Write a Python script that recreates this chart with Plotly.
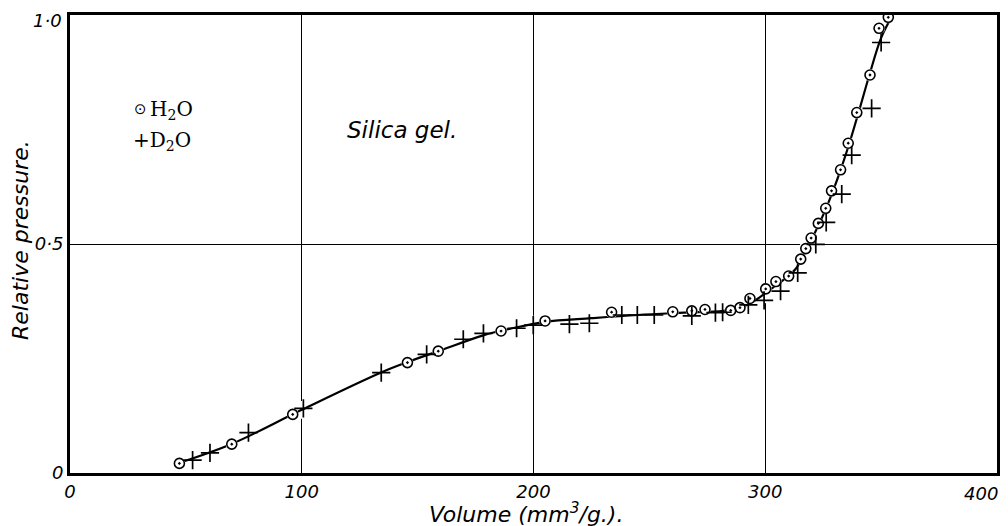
import plotly.graph_objects as go

# H2O adsorption points (circles)
h2o_volume = [47.2, 69.8, 96.1, 145.6, 158.9, 186.0, 205.0, 233.7, 260.1, 268.3, 274.0,
              285.1, 289.1, 293.4, 300.2, 304.6, 310.1, 315.3, 317.5, 319.8, 322.9,
              326.1, 328.6, 332.5, 335.8, 339.5, 345.2, 349.1, 353.1]
h2o_pressure = [0.021, 0.063, 0.128, 0.241, 0.266, 0.310, 0.332, 0.351, 0.352, 0.354, 0.357,
                0.355, 0.361, 0.381, 0.402, 0.418, 0.430, 0.467, 0.490, 0.513, 0.545,
                0.578, 0.616, 0.662, 0.720, 0.787, 0.869, 0.971, 0.995]

# D2O adsorption points (crosses)
d2o_volume = [52.9, 60.4, 77.0, 100.7, 134.3, 153.9, 169.7, 178.4, 192.7, 199.9, 215.5,
              224.1, 238.1, 244.8, 252.1, 268.3, 278.5, 281.6, 292.7, 299.5, 306.6,
              314.0, 321.8, 326.3, 333.0, 337.3, 345.9, 350.0]
d2o_pressure = [0.028, 0.044, 0.088, 0.141, 0.219, 0.259, 0.292, 0.305, 0.316, 0.323, 0.325,
                0.327, 0.345, 0.345, 0.345, 0.343, 0.350, 0.351, 0.367, 0.377, 0.397,
                0.437, 0.499, 0.547, 0.609, 0.694, 0.796, 0.940]

# drawn isotherm curve
curve_volume = [47, 70, 100, 134, 146, 160, 178, 190, 205, 225, 245, 265, 282, 290, 296,
                302, 308, 313, 317, 321, 326, 331, 336, 341, 345, 350, 355]
curve_pressure = [0.022, 0.064, 0.138, 0.219, 0.243, 0.268, 0.300, 0.315, 0.330, 0.338,
                  0.345, 0.350, 0.354, 0.362, 0.378, 0.400, 0.422, 0.445, 0.480, 0.520,
                  0.575, 0.640, 0.715, 0.800, 0.870, 0.950, 1.0]

x_ticks = [0, 100, 200, 300, 400]
x_ticklabels = ["0", "100", "200", "300", "400"]
y_ticks = [0, 0.5, 1.0]
y_ticklabels = ["0", "0·5", "1·0"]

fig = go.Figure()

# white halo under the curve (breaks the grid lines like the original)
fig.add_trace(go.Scatter(x=curve_volume, y=curve_pressure, mode="lines",
                         line=dict(color="white", width=16, shape="spline"),
                         hoverinfo="skip", showlegend=False))
fig.add_trace(go.Scatter(x=curve_volume, y=curve_pressure, mode="lines",
                         line=dict(color="black", width=2.2, shape="spline"),
                         showlegend=False))
# white backing for circles
fig.add_trace(go.Scatter(x=h2o_volume, y=h2o_pressure, mode="markers",
                         marker=dict(symbol="circle", size=12, color="white"),
                         hoverinfo="skip", showlegend=False))
fig.add_trace(go.Scatter(x=h2o_volume, y=h2o_pressure, mode="markers", name="H2O",
                         marker=dict(symbol="circle-open-dot", size=10, color="black",
                                     line=dict(width=1.6, color="black")),
                         showlegend=False))
fig.add_trace(go.Scatter(x=d2o_volume, y=d2o_pressure, mode="markers", name="D2O",
                         marker=dict(symbol="cross-thin-open", size=13, color="black",
                                     line=dict(width=1.7, color="black")),
                         showlegend=False))

axis_font = dict(family="DejaVu Sans", size=18, color="black", style="italic")

# the edge labels (last of each list) are placed as annotations so they are not clipped
fig.update_xaxes(range=[0, 400], tickvals=x_ticks[:-1], ticktext=x_ticklabels[:-1],
                 showgrid=True, gridcolor="black", gridwidth=1,
                 showline=True, linecolor="black", linewidth=3, mirror=True,
                 zeroline=False, ticks="", tickfont=axis_font, layer="below traces",
                 automargin=False)
fig.update_yaxes(range=[0, 1.0], tickvals=y_ticks[:-1], ticktext=y_ticklabels[:-1],
                 showgrid=True, gridcolor="black", gridwidth=1,
                 showline=True, linecolor="black", linewidth=3, mirror=True,
                 zeroline=False, ticks="", tickfont=axis_font, layer="below traces",
                 automargin=False)

# page body has an 8px margin: figure pixel = screen pixel - 8
L, T, W, H = 62, 7, 927, 458
FW, FH = 1000, 518

def px(sx):
    return (sx - 8 - L) / W

def py(sy):
    return (T + H - (sy - 8)) / H

annotations = [
    dict(text=x_ticklabels[-1], xref="x", yref="paper", x=x_ticks[-1], y=0,
         xanchor="right", yanchor="top", xshift=3, yshift=-8,
         showarrow=False, font=axis_font),
    dict(text=y_ticklabels[-1], xref="paper", yref="y", x=0, y=y_ticks[-1],
         xanchor="right", yanchor="middle", xshift=-6, yshift=-5,
         showarrow=False, font=axis_font),
    dict(text="Volume (mm<sup>3</sup>/g.).", xref="paper", yref="paper",
         x=px(526), y=py(513), xanchor="center", yanchor="middle",
         showarrow=False, font=dict(family="DejaVu Sans", size=22, color="black", style="italic")),
    dict(text="Relative pressure.", xref="paper", yref="paper", textangle=-90,
         x=px(20), y=py(240), xanchor="center", yanchor="middle",
         showarrow=False, font=dict(family="DejaVu Sans", size=22, color="black", style="italic")),
    dict(text="Silica gel.", xref="paper", yref="paper",
         x=px(345), y=py(130), xanchor="left", yanchor="middle",
         showarrow=False, font=dict(family="DejaVu Sans", size=23, color="black", style="italic")),
    dict(text="⊙", xref="paper", yref="paper",
         x=px(132), y=py(109), xanchor="left", yanchor="middle",
         showarrow=False, font=dict(family="DejaVu Sans", size=15, color="black")),
    dict(text="H<sub>2</sub>O", xref="paper", yref="paper",
         x=px(148), y=py(110), xanchor="left", yanchor="middle",
         showarrow=False, font=dict(family="DejaVu Serif", size=20, color="black")),
    dict(text="+D<sub>2</sub>O", xref="paper", yref="paper",
         x=px(131), y=py(141), xanchor="left", yanchor="middle",
         showarrow=False, font=dict(family="DejaVu Serif", size=20, color="black")),
]

fig.update_layout(width=FW, height=FH, margin=dict(l=L, r=FW - L - W, t=T, b=FH - T - H),
                  plot_bgcolor="white", paper_bgcolor="white",
                  annotations=annotations, showlegend=False)

fig.write_html("out.html", config={"displayModeBar": False})
